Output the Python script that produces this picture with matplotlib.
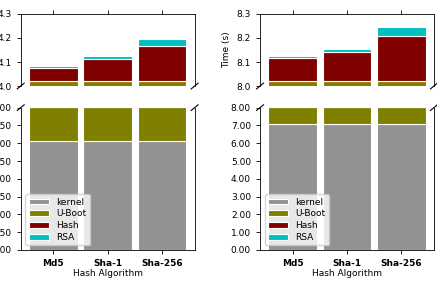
import numpy as np
import matplotlib.pyplot as plt

algorithms = ["Md5", "Sha-1", "Sha-256"]
series_names = ["kernel", "U-Boot", "Hash", "RSA"]
colors = ["#929292", "#808000", "#800000", "#00bfbf"]

# left panel
kernel_a = [3.05, 3.05, 3.05]
uboot_a = [0.97, 0.97, 0.97]
hash_a = [0.054, 0.091, 0.148]
rsa_a = [0.009, 0.014, 0.028]

# right panel
kernel_b = [7.08, 7.08, 7.08]
uboot_b = [0.94, 0.94, 0.94]
hash_b = [0.095, 0.123, 0.188]
rsa_b = [0.010, 0.012, 0.039]

panels = [
    dict(data=[kernel_a, uboot_a, hash_a, rsa_a], x0=0.0474,
         low=(0, 4.0), low_ticks=np.arange(0, 4.01, 0.5), high=(4.0, 4.3),
         high_ticks=[4.0, 4.1, 4.2, 4.3]),
    dict(data=[kernel_b, uboot_b, hash_b, rsa_b], x0=0.595,
         low=(0, 8.0), low_ticks=np.arange(0, 8.01, 1.0), high=(8.0, 8.3),
         high_ticks=[8.0, 8.1, 8.2, 8.3]),
]

fig = plt.figure(figsize=(4.37, 2.87), dpi=100)
x = np.arange(len(algorithms))
fs = 6.5

for p in panels:
    ax_hi = fig.add_axes([p["x0"], 0.7003, 0.398, 0.251])
    ax_lo = fig.add_axes([p["x0"], 0.129, 0.398, 0.496])

    for ax in (ax_hi, ax_lo):
        bottom = np.zeros(len(algorithms))
        for vals, name, col in zip(p["data"], series_names, colors):
            ax.bar(x, vals, width=0.9, bottom=bottom, color=col, edgecolor="white",
                   linewidth=0.8, label=name)
            bottom += np.array(vals)
        ax.set_xlim(-0.6, 2.6)
        ax.tick_params(labelsize=fs, length=3, width=0.6)
        for s in ax.spines.values():
            s.set_linewidth(0.6)

    ax_hi.set_ylim(*p["high"])
    ax_hi.set_yticks(p["high_ticks"])
    ax_hi.set_yticklabels([f"{v:.1f}" for v in p["high_ticks"]])
    ax_lo.set_ylim(*p["low"])
    ax_lo.set_yticks(p["low_ticks"])
    ax_lo.set_yticklabels([f"{v:.2f}" for v in p["low_ticks"]])

    ax_hi.spines["bottom"].set_visible(False)
    ax_lo.spines["top"].set_visible(False)
    ax_hi.xaxis.tick_top()
    ax_hi.set_xticks(x)
    ax_hi.tick_params(labeltop=False)
    ax_lo.xaxis.tick_bottom()
    ax_lo.set_xticks(x)
    ax_lo.set_xticklabels(algorithms, fontweight="bold")
    ax_lo.set_xlabel("Hash Algorithm", fontsize=fs, labelpad=1)
    ax_hi.set_ylabel("Time (s)", fontsize=fs)

    # break marks
    d = 0.02
    kw = dict(transform=ax_hi.transAxes, color="k", clip_on=False, lw=0.8)
    ax_hi.plot((-d, +d), (-d * 2, +d * 2), **kw)
    ax_hi.plot((1 - d, 1 + d), (-d * 2, +d * 2), **kw)
    kw.update(transform=ax_lo.transAxes)
    ax_lo.plot((-d, +d), (1 - d, 1 + d), **kw)
    ax_lo.plot((1 - d, 1 + d), (1 - d, 1 + d), **kw)

    ax_lo.legend(loc="lower left", fontsize=fs, handlelength=2.2, handleheight=0.6,
                 labelspacing=0.3, borderpad=0.4, framealpha=0.8)

fig.savefig("out.png", dpi=100)
